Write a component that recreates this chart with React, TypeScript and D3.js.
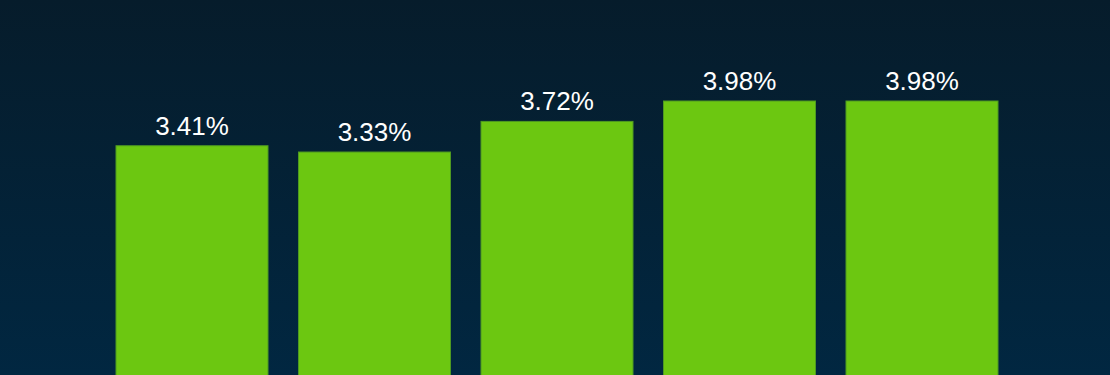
import React from "react";
import * as d3 from "d3";

const categories = ["A", "B", "C", "D", "E"];
const values = [3.41, 3.33, 3.72, 3.98, 3.98];

const W = 1110;
const H = 375;

export default function App() {
  const x = d3
    .scaleBand<string>()
    .domain(categories)
    .range([100.75, 1013.25])
    .paddingInner(0.167)
    .paddingOuter(0.0835);
  const y = d3.scaleLinear().domain([0, 3.98]).range([413.4, 101]);

  return (
    <svg
      width={W}
      height={H}
      style={{ position: "absolute", left: 0, top: 0, display: "block" }}
    >
      <defs>
        <linearGradient id="bg" x1="0" y1="0" x2="0" y2="1">
          <stop offset="0%" stopColor="#061c2b" />
          <stop offset="100%" stopColor="#012741" />
        </linearGradient>
      </defs>
      <rect x={0} y={0} width={W} height={H} fill="url(#bg)" />
      {categories.map((c, i) => (
        <g key={c}>
          <rect
            x={x(c)}
            y={y(values[i])}
            width={x.bandwidth()}
            height={y(0) - y(values[i])}
            fill="#6cc711"
            stroke="#4f9a22"
            strokeWidth={1}
          />
          <text
            x={(x(c) as number) + x.bandwidth() / 2}
            y={y(values[i]) - 11}
            textAnchor="middle"
            fill="#ffffff"
            fontFamily="Liberation Sans, Arial, sans-serif"
            fontSize={26}
          >
            {values[i].toFixed(2)}%
          </text>
        </g>
      ))}
    </svg>
  );
}
